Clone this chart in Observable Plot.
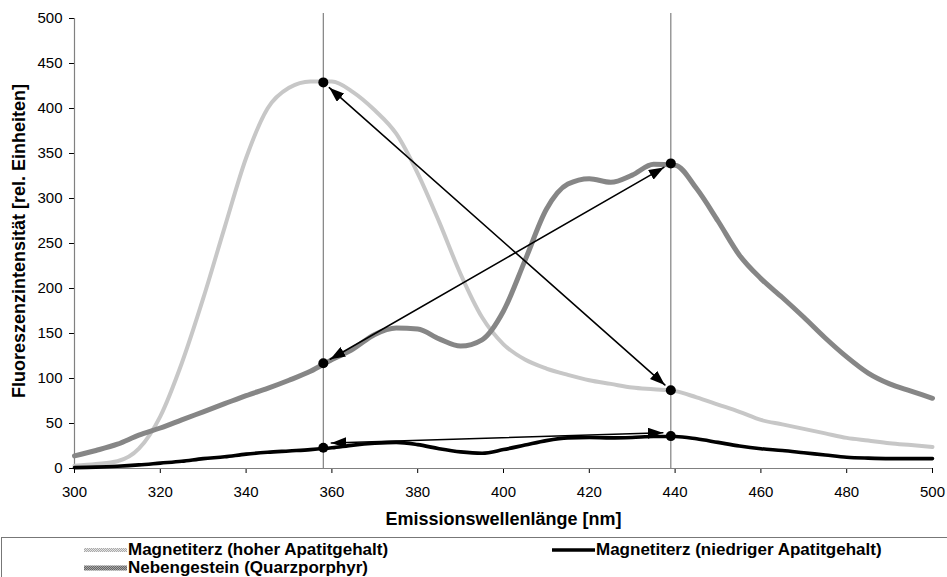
<!DOCTYPE html>
<html>
<head>
<meta charset="utf-8">
<script src="https://cdn.jsdelivr.net/npm/d3@7"></script>
<script src="https://cdn.jsdelivr.net/npm/@observablehq/plot@0.6"></script>
<style>
  html, body { margin: 0; padding: 0; background: #fff; overflow: hidden; }
  #wrap { position: relative; width: 947px; height: 577px; font-family: "Liberation Sans", Arial, sans-serif; }
  #legend { position: absolute; left: 1px; top: 537px; width: 946px; height: 60px;
            border-top: 1px solid #777; border-left: 1px solid #777; box-sizing: border-box;
            font: bold 17px "Liberation Sans", Arial, sans-serif; color: #000; }
  .item { position: absolute; display: flex; align-items: center; height: 18px; white-space: nowrap; }
  .item svg { display: block; margin-right: 1px; }
</style>
</head>
<body>
<div id="wrap"><div id="chart"></div><div id="legend"></div></div>
<script>
// ---------------- data ----------------
const wavelengths = [300,305,310,315,320,325,330,335,340,345,350,355,360,365,370,375,380,385,390,395,400,405,410,415,420,425,430,435,440,445,450,455,460,465,470,475,480,485,490,495,500];
const seriesHoher = [3,5,8,22,58,117,189,268,345,400,423,430,430,418,398,372,328,274,216,168,138,121,111,104,98,94,90,88,86,79,71,63,54,49,44,39,34,31,28,26,24];
const seriesNiedrig = [1,1.5,2.5,4,6,8,11,13,16,18,19.5,21,23,26,28,29,26.5,22,18.5,17,21,26,31,34,34.5,34,34.5,35.5,35.5,33,29,25,22,20,17.5,15,12.5,11.5,11,11,11];
const seriesNeben = [14,20,27,37,45,54,63,72,81,89,98,108,121,133,149,156,155,144,136,143,175,231,288,316,322,318,326,338,337,311,275,237,211,190,168,145,124,106,94,86,78];
const seriesNames = ["Magnetiterz (hoher Apatitgehalt)", "Magnetiterz (niedriger Apatitgehalt)", "Nebengestein (Quarzporphyr)"];

const markerWavelengths = [358, 439];
const dotX = [358, 358, 358, 439, 439, 439];
const dotY = [429, 117, 23, 87, 339, 36];

const arrowX1 = [358, 358, 358];
const arrowY1 = [429, 117, 28];
const arrowX2 = [439, 439, 439];
const arrowY2 = [87, 339, 40];

const xTicks = [300,320,340,360,380,400,420,440,460,480,500];
const yTicks = [0,50,100,150,200,250,300,350,400,450,500];
const xDomain = [300, 500];
const yDomain = [0, 500];
const xTitle = "Emissionswellenlänge [nm]";
const yTitle = "Fluoreszenzintensität [rel. Einheiten]";

// ---------------- tables ----------------
const rowsHoher = wavelengths.map((w, i) => ({w, v: seriesHoher[i]}));
const rowsNiedrig = wavelengths.map((w, i) => ({w, v: seriesNiedrig[i]}));
const rowsNeben = wavelengths.map((w, i) => ({w, v: seriesNeben[i]}));
const dots = dotX.map((x, i) => ({x, y: dotY[i]}));
const arrows = arrowX1.map((x1, i) => ({x1, y1: arrowY1[i], x2: arrowX2[i], y2: arrowY2[i]}));

const FONT = "Liberation Sans, Arial, sans-serif";

const chart = Plot.plot({
  width: 947,
  height: 530,
  marginLeft: 74,
  marginRight: 15,
  marginTop: 13,
  marginBottom: 62,
  insetTop: 5,
  style: {fontFamily: FONT, fontSize: "15px", color: "#000", background: "#fff", overflow: "visible"},
  x: {domain: xDomain, ticks: xTicks, tickSize: 5, tickPadding: 13, tickFormat: d => String(d), label: null},
  y: {domain: yDomain, ticks: yTicks, tickSize: 5, tickPadding: 7, tickFormat: d => String(d), label: null},
  marks: [
    Plot.ruleY([yDomain[0]], {stroke: "#808080", strokeWidth: 1.2}),
    Plot.ruleX([xDomain[0]], {y1: yDomain[0], y2: yDomain[1], stroke: "#808080", strokeWidth: 1.2}),
    Plot.line(rowsHoher, {x: "w", y: "v", stroke: "#c9c9c9", strokeWidth: 4, curve: "monotone-x"}),
    Plot.line(rowsNiedrig, {x: "w", y: "v", stroke: "#000000", strokeWidth: 3.6, curve: "monotone-x"}),
    Plot.line(rowsNeben, {x: "w", y: "v", stroke: "#888888", strokeWidth: 5, curve: "monotone-x"}),
    Plot.ruleX(markerWavelengths, {stroke: "#808080", strokeWidth: 1.2}),
    Plot.arrow(arrows, {x1: "x1", y1: "y1", x2: "x2", y2: "y2", stroke: "#000", strokeWidth: 1.6, insetStart: 8, insetEnd: 8, bend: 0}),
    Plot.dot(dots, {x: "x", y: "y", r: 5, fill: "#000", stroke: "none"}),
    Plot.text([xTitle], {frameAnchor: "bottom", text: d => d, dy: 51, lineAnchor: "middle", textAnchor: "middle", fontSize: 18, fontWeight: "bold", fill: "#000"}),
    Plot.text([yTitle], {frameAnchor: "left", text: d => d, dx: -55, rotate: -90, lineAnchor: "middle", textAnchor: "middle", fontSize: 18, fontWeight: "bold", fill: "#000"})
  ]
});

document.getElementById("chart").appendChild(chart);
const svg = chart.tagName.toLowerCase() === "svg" ? chart : chart.querySelector("svg");
const NS = "http://www.w3.org/2000/svg";

// defs: textured strokes and filled arrowheads
const defs = document.createElementNS(NS, "defs");
defs.innerHTML = `
  <pattern id="patLight" width="2" height="2" patternUnits="userSpaceOnUse">
    <rect width="2" height="2" fill="#e4e4e4"/>
    <rect x="0" y="0" width="1" height="1" fill="#a9a9a9"/>
    <rect x="1" y="1" width="1" height="1" fill="#a9a9a9"/>
  </pattern>
  <pattern id="patMed" width="2" height="2" patternUnits="userSpaceOnUse">
    <rect width="2" height="2" fill="#a6a6a6"/>
    <rect x="0" y="0" width="1" height="1" fill="#666666"/>
    <rect x="1" y="1" width="1" height="1" fill="#666666"/>
  </pattern>
  <marker id="triHead" viewBox="-15 -5.5 15 11" refX="0" refY="0" markerWidth="15" markerHeight="11"
          markerUnits="userSpaceOnUse" orient="auto-start-reverse">
    <path d="M0,0L-15,-5.5L-15,5.5Z" fill="#000" stroke="none"/>
  </marker>`;
svg.insertBefore(defs, svg.firstChild);

svg.querySelectorAll('[stroke="#c9c9c9"]').forEach(el => el.setAttribute("stroke", "url(#patLight)"));
svg.querySelectorAll('[stroke="#888888"]').forEach(el => el.setAttribute("stroke", "url(#patMed)"));

// turn Plot's arrows into straight double-headed arrows with filled heads
svg.querySelectorAll('g[aria-label="arrow"] path').forEach(p => {
  const d = p.getAttribute("d");
  if (!d) return;
  const n = d.match(/-?\d*\.?\d+(?:e[-+]?\d+)?/gi).map(Number);
  p.setAttribute("d", `M${n[0]},${n[1]}L${n[2]},${n[3]}`);
  p.setAttribute("marker-start", "url(#triHead)");
  p.setAttribute("marker-end", "url(#triHead)");
});

// ---------------- legend ----------------
const legendItems = [
  {name: seriesNames[0], stroke: "url(#patLight)", width: 4, left: 82, top: 3},
  {name: seriesNames[1], stroke: "#000", width: 3.6, left: 550, top: 3},
  {name: seriesNames[2], stroke: "url(#patMed)", width: 5, left: 82, top: 21}
];
const legend = document.getElementById("legend");
legendItems.forEach(it => {
  const div = document.createElement("div");
  div.className = "item";
  div.style.left = it.left + "px";
  div.style.top = it.top + "px";
  div.innerHTML = `<svg width="43" height="18"><line x1="0" x2="43" y1="9" y2="9" stroke="${it.stroke}" stroke-width="${it.width}"/></svg><span>${it.name}</span>`;
  legend.appendChild(div);
});
</script>
</body>
</html>
